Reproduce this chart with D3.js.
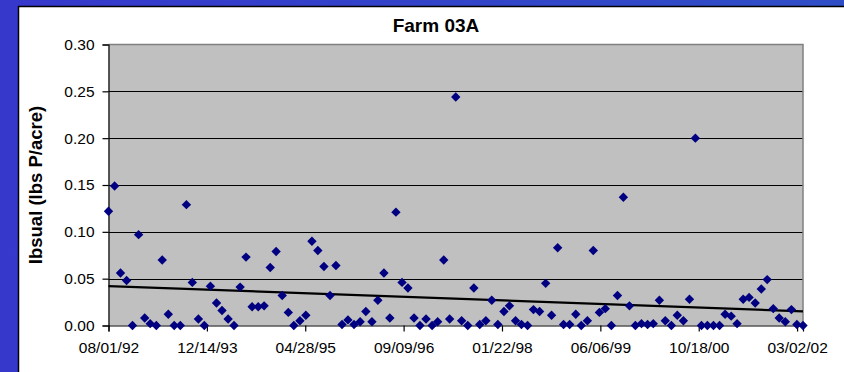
<!DOCTYPE html>
<html>
<head>
<meta charset="utf-8">
<script src="https://cdn.jsdelivr.net/npm/d3@7"></script>
<style>
    html, body { margin: 0; padding: 0; overflow: hidden; }
    svg { display: block; }
    text { font-family: "Liberation Sans", Arial, sans-serif; fill: #000; }
</style>
</head>
<body>
<svg id="chart"></svg>
<script>
// monthly samples, first of month
const firstMonth = '1992-08-01';
const lastMonth = '2002-04-01';

const ibsual = [
    0.122, 0.149, 0.056, 0.048, 0.000, 0.097, 0.008, 0.002, 0.000, 0.070,
    0.012, 0.000, 0.000, 0.129, 0.046, 0.007, 0.000, 0.042, 0.024, 0.016,
    0.007, 0.000, 0.041, 0.073, 0.020, 0.020, 0.021, 0.062, 0.079, 0.032,
    0.014, 0.000, 0.005, 0.011, 0.090, 0.080, 0.063, 0.032, 0.064, 0.001,
    0.006, 0.001, 0.004, 0.015, 0.004, 0.027, 0.056, 0.008, 0.121, 0.046,
    0.040, 0.008, 0.000, 0.007, 0.000, 0.004, 0.070, 0.007, 0.244, 0.005,
    0.000, 0.040, 0.001, 0.005, 0.027, 0.001, 0.015, 0.021, 0.005, 0.001,
    0.000, 0.017, 0.015, 0.045, 0.011, 0.083, 0.001, 0.001, 0.012, 0.000,
    0.005, 0.080, 0.014, 0.018, 0.000, 0.032, 0.137, 0.021, 0.000, 0.002,
    0.001, 0.002, 0.027, 0.005, 0.000, 0.011, 0.005, 0.028, 0.200, 0.000,
    0.000, 0.000, 0.000, 0.012, 0.010, 0.002, 0.028, 0.030, 0.024, 0.039,
    0.049, 0.018, 0.008, 0.004, 0.017, 0.001, 0.000
];

const xTickLabels = ['08/01/92', '12/14/93', '04/28/95', '09/09/96', '01/22/98', '06/06/99', '10/18/00', '03/02/02'];
const yTicks = [0, 0.05, 0.10, 0.15, 0.20, 0.25, 0.30];

const width = 844;
const height = 372;
const plot = { left: 108.5, right: 803, top: 44.5, bottom: 325.5 };

let parseDate = d3.utcParse('%Y-%m-%d');
let parseTick = d3.utcParse('%m/%d/%y');
let fmtTick = d3.utcFormat('%m/%d/%y');

let months = d3.utcMonth.range(parseDate(firstMonth), d3.utcMonth.offset(parseDate(lastMonth), 1));
let data = months.map((d, i) => ({ date: d, value: ibsual[i] }));

let xScale = d3.scaleUtc()
    .domain(d3.extent(data, d => d.date))
    .range([plot.left, plot.right]);
let yScale = d3.scaleLinear()
    .domain([0, 0.30])
    .range([plot.bottom, plot.top]);

let svg = d3.select('#chart')
    .attr('width', width)
    .attr('height', height);

// blue slide background
let defs = svg.append('defs');
let grad = defs.append('linearGradient').attr('id', 'bg').attr('x1', 0).attr('x2', 1).attr('y1', 0).attr('y2', 0);
grad.append('stop').attr('offset', 0).attr('stop-color', '#3638cc');
grad.append('stop').attr('offset', 1).attr('stop-color', '#2f4ec6');
svg.append('rect').attr('width', width).attr('height', height).attr('fill', 'url(#bg)');

// chart area
svg.append('rect')
    .attr('x', 18.5).attr('y', 6.5)
    .attr('width', 900).attr('height', 400)
    .attr('fill', '#fff')
    .attr('stroke', '#000')
    .attr('stroke-width', 1.5);

// plot area
svg.append('rect')
    .attr('x', plot.left).attr('y', plot.top)
    .attr('width', plot.right - plot.left).attr('height', plot.bottom - plot.top)
    .attr('fill', '#c0c0c0');

// gridlines
svg.append('g')
    .selectAll('line')
    .data(yTicks.filter(d => d > 0 && d < 0.30))
    .enter().append('line')
    .attr('x1', plot.left).attr('x2', plot.right)
    .attr('y1', d => Math.round(yScale(d)) + 0.5)
    .attr('y2', d => Math.round(yScale(d)) + 0.5)
    .attr('stroke', '#000')
    .attr('stroke-width', 1);

// plot border top / right
svg.append('path')
    .attr('d', `M${plot.left},${plot.top}H${plot.right}V${plot.bottom}`)
    .attr('fill', 'none')
    .attr('stroke', '#808080')
    .attr('stroke-width', 1.5);

// axes
let yAxis = d3.axisLeft(yScale)
    .tickValues(yTicks)
    .tickSize(6)
    .tickPadding(8)
    .tickFormat(d3.format('.2f'));
let yAxisG = svg.append('g')
    .attr('transform', `translate(${plot.left},0)`)
    .call(yAxis);

let xAxis = d3.axisBottom(xScale)
    .tickValues(xTickLabels.map(parseTick))
    .tickSize(6)
    .tickPadding(10)
    .tickFormat(fmtTick);
let xAxisG = svg.append('g')
    .attr('transform', `translate(0,${plot.bottom})`)
    .call(xAxis);

[yAxisG, xAxisG].forEach(g => {
    g.select('.domain').attr('stroke', '#000').attr('stroke-width', 1.2);
    g.selectAll('.tick line').attr('stroke', '#000').attr('stroke-width', 1.2);
    g.selectAll('.tick text')
        .attr('fill', '#000')
        .style('font-family', '"Liberation Sans", Arial, sans-serif')
        .style('font-size', '15.5px');
});

// linear trend (least squares on date)
let xs = data.map(d => +d.date);
let ys = data.map(d => d.value);
let mx = d3.mean(xs), my = d3.mean(ys);
let slope = d3.sum(xs, (x, i) => (x - mx) * (ys[i] - my)) / d3.sum(xs, x => (x - mx) * (x - mx));
let trend = d => my + slope * (+d - mx);
let ends = xScale.domain();

svg.append('line')
    .attr('x1', xScale(ends[0])).attr('y1', yScale(trend(ends[0])))
    .attr('x2', xScale(ends[1])).attr('y2', yScale(trend(ends[1])))
    .attr('stroke', '#000')
    .attr('stroke-width', 2.2);

// markers
let diamond = 'M0,-4.7L4.7,0L0,4.7L-4.7,0Z';
svg.append('g')
    .selectAll('.pt')
    .data(data)
    .enter().append('path')
    .attr('class', 'pt')
    .attr('d', diamond)
    .attr('transform', d => `translate(${xScale(d.date)},${yScale(d.value)})`)
    .attr('fill', '#000080');

// titles
svg.append('text')
    .attr('x', 436).attr('y', 32)
    .attr('text-anchor', 'middle')
    .style('font-size', '19px')
    .style('font-weight', 'bold')
    .text('Farm 03A');

svg.append('text')
    .attr('transform', `translate(42,185) rotate(-90)`)
    .attr('text-anchor', 'middle')
    .style('font-size', '18.5px')
    .style('font-weight', 'bold')
    .text('Ibsual (lbs P/acre)');
</script>
</body>
</html>
